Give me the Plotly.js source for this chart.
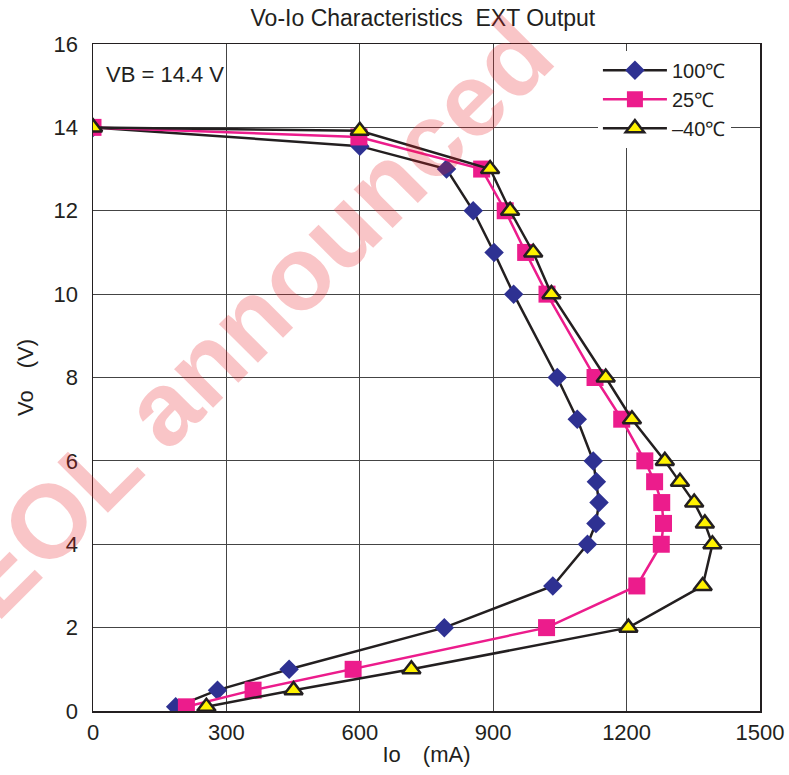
<!DOCTYPE html>
<html>
<head>
<meta charset="utf-8">
<script src="https://cdn.plot.ly/plotly-3.0.1.min.js"></script>
<style>html,body{margin:0;padding:0;background:#fff;}#chart{width:789px;height:775px;}</style>
</head>
<body>
<div id="chart"></div>
<script>
// Series data (Io in mA, Vo in V)
const io100 = [0, 600, 795, 855, 902, 946, 1044, 1089, 1125, 1132, 1138, 1131, 1112, 1034, 790, 441, 280, 186];
const vo100 = [14, 13.55, 13, 12, 11, 10, 8, 7, 6, 5.5, 5, 4.5, 4, 3, 2, 1, 0.5, 0.1];

const io25 = [0, 598, 874, 927, 973, 1021, 1129, 1189, 1241, 1263, 1279, 1283, 1278, 1223, 1020, 585, 360, 210];
const vo25 = [14, 13.77, 13, 12, 11, 10, 8, 7, 6, 5.5, 5, 4.5, 4, 3, 2, 1, 0.5, 0.1];

const ioM40 = [0, 600, 893, 938, 990, 1031, 1153, 1212, 1286, 1320, 1352, 1376, 1393, 1371, 1204, 716, 451, 255];
const voM40 = [14, 13.92, 13, 12, 11, 10, 8, 7, 6, 5.5, 5, 4.5, 4, 3, 2, 1, 0.5, 0.1];

const seriesNames = ['100\u2103', '25\u2103', '\u201340\u2103'];
const xTicks = [0, 300, 600, 900, 1200, 1500];
const yTicks = [0, 2, 4, 6, 8, 10, 12, 14, 16];

const FONT = 'Liberation Sans, Arial, Helvetica, sans-serif';
const TXT = '#231f20';
const FS = 22;

const traces = [
  {
    x: io100, y: vo100, name: seriesNames[0], mode: 'lines+markers', type: 'scatter',
    line: {color: '#231f20', width: 2.5},
    marker: {symbol: 'diamond', size: 15, color: '#2e3192', line: {width: 0}}
  },
  {
    x: io25, y: vo25, name: seriesNames[1], mode: 'lines+markers', type: 'scatter',
    line: {color: '#ec1c8c', width: 2.5},
    marker: {symbol: 'square', size: 17, color: '#ec1c8c', line: {width: 0}}
  },
  {
    x: ioM40, y: voM40, name: seriesNames[2], mode: 'lines+markers', type: 'scatter',
    line: {color: '#231f20', width: 2.5},
    marker: {symbol: 'triangle-up', size: 16, color: '#fff200', line: {width: 2.5, color: '#231f20'}}
  }
];

const layout = {
  width: 789, height: 775,
  margin: {l: 93, r: 29, t: 44, b: 64},
  paper_bgcolor: '#ffffff', plot_bgcolor: '#ffffff',
  font: {family: FONT, size: FS, color: TXT},
  title: {text: 'Vo-Io Characteristics  EXT Output', font: {family: FONT, size: 23, color: TXT},
          x: 0.536, xanchor: 'center', y: 0.977, yanchor: 'middle'},
  xaxis: {
    range: [0, 1500], tickvals: xTicks, ticktext: xTicks.map(String),
    showgrid: true, gridcolor: '#444444', gridwidth: 1,
    showline: true, linecolor: '#231f20', linewidth: 1.5, mirror: true,
    ticks: '', zeroline: false, tickfont: {size: FS, color: TXT}, ticklabelstandoff: 1,
    title: {text: 'Io\u2002\u2002(mA)', font: {size: FS, color: TXT}, standoff: 2}
  },
  yaxis: {
    range: [0, 16], tickvals: yTicks, ticktext: yTicks.map(String),
    showgrid: true, gridcolor: '#444444', gridwidth: 1,
    showline: true, linecolor: '#231f20', linewidth: 1.5, mirror: true,
    ticks: '', zeroline: false, tickfont: {size: FS, color: TXT}, ticklabelstandoff: 9,
    title: {text: 'Vo\u2002\u2002(V)', font: {size: FS, color: TXT}, standoff: 14}
  },
  showlegend: true,
  legend: {
    x: 0.757, y: 0.99, xanchor: 'left', yanchor: 'top',
    bgcolor: '#ffffff', borderwidth: 0, itemwidth: 64,
    font: {size: 20, color: TXT}, tracegroupgap: 0
  },
  annotations: [
    {text: 'VB = 14.4 V', xref: 'paper', yref: 'paper', x: 0.016, y: 0.955,
     xanchor: 'left', yanchor: 'middle', showarrow: false, font: {size: FS, color: TXT}},
    {text: 'EOL announced', xref: 'paper', yref: 'paper', x: 0.24, y: 0.59,
     xanchor: 'center', yanchor: 'middle', showarrow: false, textangle: -45,
     font: {family: FONT, size: 104, color: 'rgba(232,30,40,0.26)', weight: 'bold'}}
  ]
};

Plotly.newPlot('chart', traces, layout, {displayModeBar: false, staticPlot: true});
</script>
</body>
</html>
